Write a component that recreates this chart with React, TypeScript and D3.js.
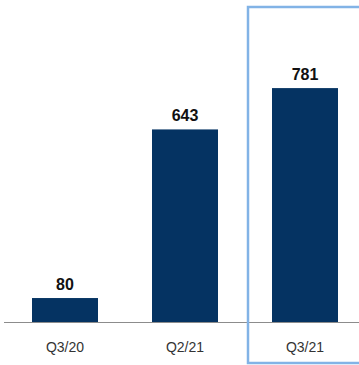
import React from "react";
import * as d3 from "d3";

const categories = ["Q3/20", "Q2/21", "Q3/21"];
const values = [80, 643, 781];
const highlighted = "Q3/21";

export default function App() {
  const width = 359;
  const height = 365;
  const baseline = 322;
  const x = d3
    .scaleBand<string>()
    .domain(categories)
    .range([5, 365])
    .paddingInner(0.45)
    .paddingOuter(0.225);
  const y = d3.scaleLinear().domain([0, 800]).range([baseline, baseline - 239.6]);
  const hx = (x(highlighted) ?? 0) - 24;
  return (
    <svg
      width={width}
      height={height}
      style={{ position: "absolute", left: 0, top: 0, background: "#fff" }}
      fontFamily="Liberation Sans, Arial, sans-serif"
    >
      <line x1={4} x2={width} y1={baseline + 0.5} y2={baseline + 0.5} stroke="#8c8c8c" strokeWidth={1} />
      {categories.map((c, i) => (
        <g key={c}>
          <rect
            x={x(c)}
            y={y(values[i])}
            width={x.bandwidth()}
            height={baseline - y(values[i])}
            fill="#053362"
          />
          <text
            x={(x(c) ?? 0) + x.bandwidth() / 2}
            y={y(values[i]) - 8}
            textAnchor="middle"
            fontSize={16}
            fontWeight="bold"
            fill="#111"
          >
            {values[i]}
          </text>
          <text
            x={(x(c) ?? 0) + x.bandwidth() / 2}
            y={352}
            textAnchor="middle"
            fontSize={14}
            fill="#333"
          >
            {c}
          </text>
        </g>
      ))}
      <rect
        x={hx}
        y={7}
        width={130}
        height={356}
        fill="none"
        stroke="#82b3e6"
        strokeWidth={2.5}
      />
    </svg>
  );
}
